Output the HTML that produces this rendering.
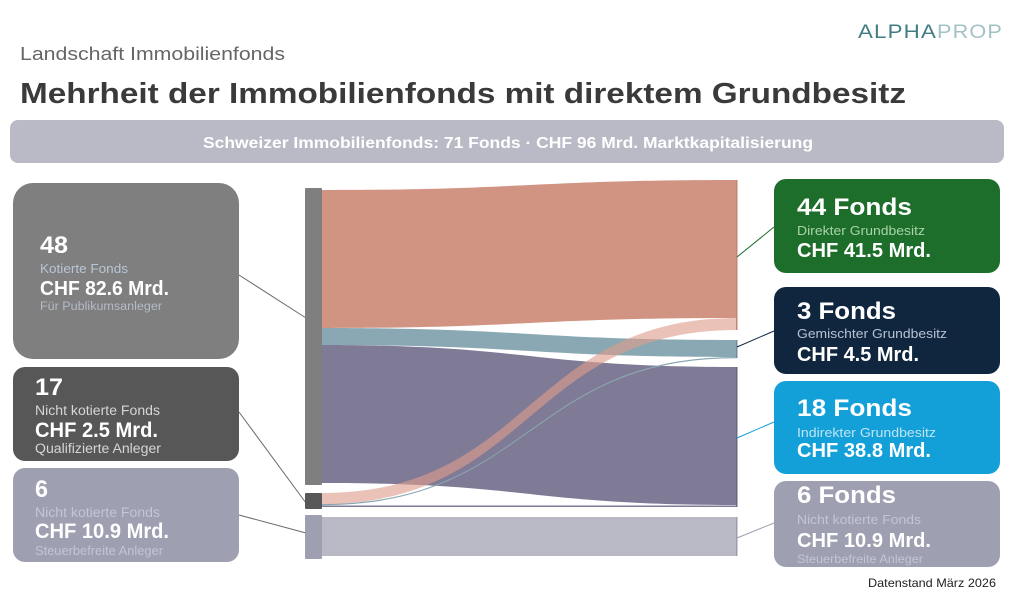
<!DOCTYPE html>
<html>
<head>
<meta charset="utf-8">
<style>
  html,body{margin:0;padding:0;background:#fff;}
  svg{display:block;}
  text{font-family:"Liberation Sans", sans-serif;}
  .b{font-weight:bold;}
</style>
</head>
<body>
<svg width="1024" height="598" viewBox="0 0 1024 598" xmlns="http://www.w3.org/2000/svg">
  <rect width="1024" height="598" fill="#ffffff"/>

  <!-- Logo -->
  <text x="858" y="38" font-size="19" fill="#3f7d82" textLength="79" lengthAdjust="spacingAndGlyphs" letter-spacing="1">ALPHA</text>
  <text x="937" y="38" font-size="19" fill="#a3c2c6" textLength="66" lengthAdjust="spacingAndGlyphs" letter-spacing="1">PROP</text>

  <!-- Headings -->
  <text x="20" y="60" font-size="18" fill="#666666" textLength="265" lengthAdjust="spacingAndGlyphs">Landschaft Immobilienfonds</text>
  <text x="20" y="103" font-size="29" class="b" fill="#3a3a3a" textLength="886" lengthAdjust="spacingAndGlyphs">Mehrheit der Immobilienfonds mit direktem Grundbesitz</text>

  <!-- Banner -->
  <rect x="10" y="120" width="994" height="43" rx="8" ry="8" fill="#b9bac5"/>
  <text x="203" y="148" font-size="15.5" class="b" fill="#ffffff" textLength="610" lengthAdjust="spacingAndGlyphs">Schweizer Immobilienfonds: 71 Fonds  ·  CHF 96 Mrd. Marktkapitalisierung</text>

  <!-- Left boxes -->
  <rect x="13" y="183" width="226" height="176" rx="20" ry="20" fill="#7f7f7f"/>
  <text x="40" y="253" font-size="24" class="b" fill="#ffffff" textLength="28" lengthAdjust="spacingAndGlyphs">48</text>
  <text x="40" y="273" font-size="13" fill="#b7c6d6" textLength="88" lengthAdjust="spacingAndGlyphs">Kotierte Fonds</text>
  <text x="40" y="295" font-size="20" class="b" fill="#ffffff" textLength="129" lengthAdjust="spacingAndGlyphs">CHF 82.6 Mrd.</text>
  <text x="40" y="310" font-size="11.5" fill="#b3bcc8" textLength="122" lengthAdjust="spacingAndGlyphs">Für Publikumsanleger</text>

  <rect x="13" y="367" width="226" height="94" rx="12" ry="12" fill="#575757"/>
  <text x="35" y="395" font-size="24" class="b" fill="#ffffff" textLength="28" lengthAdjust="spacingAndGlyphs">17</text>
  <text x="35" y="415" font-size="13.5" fill="#d6d6d6" textLength="125" lengthAdjust="spacingAndGlyphs">Nicht kotierte Fonds</text>
  <text x="35" y="437" font-size="21" class="b" fill="#ffffff" textLength="123" lengthAdjust="spacingAndGlyphs">CHF 2.5 Mrd.</text>
  <text x="35" y="453" font-size="13.5" fill="#d6d6d6" textLength="126" lengthAdjust="spacingAndGlyphs">Qualifizierte Anleger</text>

  <rect x="13" y="468" width="226" height="94" rx="12" ry="12" fill="#9e9fb0"/>
  <text x="35" y="497" font-size="24" class="b" fill="#ffffff" textLength="13" lengthAdjust="spacingAndGlyphs">6</text>
  <text x="35" y="517" font-size="13.5" fill="#c2c6d6" textLength="125" lengthAdjust="spacingAndGlyphs">Nicht kotierte Fonds</text>
  <text x="35" y="538" font-size="21" class="b" fill="#ffffff" textLength="134" lengthAdjust="spacingAndGlyphs">CHF 10.9 Mrd.</text>
  <text x="35" y="555" font-size="13" fill="#c2c6d6" textLength="128" lengthAdjust="spacingAndGlyphs">Steuerbefreite Anleger</text>

  <!-- Left connector lines -->
  <line x1="239" y1="275" x2="306" y2="318" stroke="#6a6a6a" stroke-width="1"/>
  <line x1="239" y1="412" x2="306" y2="503" stroke="#6a6a6a" stroke-width="1"/>
  <line x1="239" y1="515" x2="306" y2="533" stroke="#6a6a6a" stroke-width="1"/>

  <!-- Sankey flows -->
  <!-- salmon: direkt -->
  <path d="M322,190 C529.5,190 529.5,180 737,180 L737,318 C529.5,318 529.5,328 322,328 Z" fill="#d19483"/>
  <!-- teal: gemischt -->
  <path d="M322,328 C529.5,328 529.5,340 737,340 L737,357 C529.5,357 529.5,345 322,345 Z" fill="#8aa8b3"/>
  <!-- purple: indirekt -->
  <path d="M322,345 C529.5,345 529.5,367 737,367 L737,505 C529.5,505 529.5,483 322,483 Z" fill="#7f7a96"/>
  <!-- node2 thin flows -->
  <path d="M322,504 C529.5,504 529.5,357 737,357 L737,358.2 C529.5,358.2 529.5,505.2 322,505.2 Z" fill="#8aa8b3"/>
  <rect x="322" y="505.5" width="415" height="1.5" fill="#7f7a96"/>
  <!-- pink: node2 -> direkt -->
  <path d="M322,493 C529.5,493 529.5,318 737,318 L737,330 C529.5,330 529.5,504 322,504 Z" fill="#de9c8a" fill-opacity="0.62"/>
  <!-- gray: steuerbefreit -->
  <rect x="322" y="517" width="415" height="39" fill="#b8b9c4"/>

  <!-- right node edges -->
  <rect x="736" y="180" width="1.5" height="150" fill="#c28676"/>
  <rect x="736" y="340" width="1.5" height="18" fill="#6f8e99"/>
  <rect x="736" y="367" width="1.5" height="140" fill="#6b6684"/>
  <rect x="736" y="517" width="1.5" height="39" fill="#9c9dac"/>

  <!-- Left nodes -->
  <rect x="305" y="188" width="17" height="297" rx="1" fill="#7f7f7f"/>
  <rect x="305" y="493" width="17" height="16" rx="1" fill="#575757"/>
  <rect x="305" y="515" width="17" height="44" rx="1" fill="#9e9fb0"/>

  <!-- Right connector lines -->
  <line x1="737" y1="257" x2="774" y2="227" stroke="#1c6e2a" stroke-width="1"/>
  <line x1="737" y1="347" x2="774" y2="331" stroke="#10263f" stroke-width="1"/>
  <line x1="737" y1="438" x2="774" y2="422" stroke="#13a0d9" stroke-width="1"/>
  <line x1="737" y1="538" x2="774" y2="523" stroke="#9e9fb0" stroke-width="1"/>

  <!-- Right boxes -->
  <rect x="774" y="179" width="226" height="94" rx="12" ry="12" fill="#1c6e2a"/>
  <text x="797" y="215" font-size="24" class="b" fill="#ffffff" textLength="115" lengthAdjust="spacingAndGlyphs">44 Fonds</text>
  <text x="797" y="235" font-size="13" fill="#a9d3a9" textLength="128" lengthAdjust="spacingAndGlyphs">Direkter Grundbesitz</text>
  <text x="797" y="257" font-size="20" class="b" fill="#ffffff" textLength="134" lengthAdjust="spacingAndGlyphs">CHF 41.5 Mrd.</text>

  <rect x="774" y="287" width="226" height="87" rx="12" ry="12" fill="#10263f"/>
  <text x="797" y="319" font-size="24" class="b" fill="#ffffff" textLength="99" lengthAdjust="spacingAndGlyphs">3 Fonds</text>
  <text x="797" y="338" font-size="13" fill="#b6c2d2" textLength="150" lengthAdjust="spacingAndGlyphs">Gemischter Grundbesitz</text>
  <text x="797" y="361" font-size="20" class="b" fill="#ffffff" textLength="122" lengthAdjust="spacingAndGlyphs">CHF 4.5 Mrd.</text>

  <rect x="774" y="381" width="226" height="93" rx="12" ry="12" fill="#13a0d9"/>
  <text x="797" y="416" font-size="24" class="b" fill="#ffffff" textLength="115" lengthAdjust="spacingAndGlyphs">18 Fonds</text>
  <text x="797" y="437" font-size="13" fill="#bfe4f4" textLength="139" lengthAdjust="spacingAndGlyphs">Indirekter Grundbesitz</text>
  <text x="797" y="457" font-size="20" class="b" fill="#ffffff" textLength="134" lengthAdjust="spacingAndGlyphs">CHF 38.8 Mrd.</text>

  <rect x="774" y="481" width="226" height="86" rx="12" ry="12" fill="#9e9fb0"/>
  <text x="797" y="503" font-size="24" class="b" fill="#ffffff" textLength="99" lengthAdjust="spacingAndGlyphs">6 Fonds</text>
  <text x="797" y="524" font-size="13" fill="#c4c6d4" textLength="124" lengthAdjust="spacingAndGlyphs">Nicht kotierte Fonds</text>
  <text x="797" y="547" font-size="20" class="b" fill="#ffffff" textLength="134" lengthAdjust="spacingAndGlyphs">CHF 10.9 Mrd.</text>
  <text x="797" y="563" font-size="12" fill="#c4c6d4" textLength="126" lengthAdjust="spacingAndGlyphs">Steuerbefreite Anleger</text>

  <!-- Footer -->
  <text x="868" y="587" font-size="12" fill="#222222" textLength="128" lengthAdjust="spacingAndGlyphs">Datenstand März 2026</text>
</svg>
</body>
</html>
